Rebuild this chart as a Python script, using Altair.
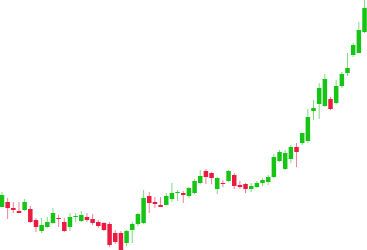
import altair as alt
import pandas as pd

opens = [14.3, 14.8, 14.2, 13.9, 14.0, 14.1, 13.0, 11.9, 12.3, 12.7,
         13.2, 12.8, 12.3, 13.3, 12.9, 13.3, 13.1, 12.8, 12.7, 12.6,
         11.7, 11.7, 10.7, 12.0, 12.6, 12.7, 15.4, 14.8, 14.5, 14.5,
         15.1, 15.7, 15.7, 15.4, 15.7, 16.7, 17.9, 17.7, 16.1, 16.7,
         16.9, 17.5, 16.5, 16.6, 16.1, 16.3, 16.7, 16.8, 17.3, 18.9,
         18.1, 19.1, 20.3, 20.7, 20.9, 23.9, 24.6, 24.4, 25.1, 24.7,
         26.4, 27.7, 29.5, 29.7, 31.8]
closes = [15.5, 14.2, 14.0, 13.7, 14.8, 12.8, 12.3, 12.5, 12.8, 13.7,
          13.1, 11.9, 13.3, 13.4, 13.5, 13.0, 12.7, 12.4, 12.0, 10.5,
          10.8, 10.0, 11.9, 12.6, 13.6, 15.2, 14.7, 14.6, 14.3, 15.4,
          15.7, 15.8, 15.5, 16.2, 16.9, 17.4, 17.3, 17.2, 17.2, 16.6,
          17.9, 16.4, 16.3, 16.1, 16.4, 16.7, 17.0, 17.3, 19.3, 19.8,
          19.7, 20.3, 19.8, 21.7, 23.3, 24.2, 26.2, 27.1, 24.1, 26.4,
          27.6, 28.2, 30.5, 32.0, 34.2]
highs = [15.8, 15.2, 14.8, 14.8, 15.1, 14.4, 13.2, 13.2, 13.3, 14.2,
         13.5, 13.2, 13.7, 13.7, 13.9, 13.7, 13.6, 13.0, 12.8, 12.8,
         12.0, 11.9, 12.0, 12.8, 13.7, 16.0, 15.8, 15.3, 15.3, 15.7,
         16.7, 16.0, 15.9, 16.3, 17.1, 18.0, 18.1, 17.8, 17.3, 17.0,
         18.0, 17.7, 16.9, 16.7, 16.7, 16.9, 17.2, 17.5, 19.6, 20.0,
         20.0, 20.5, 20.7, 21.7, 24.1, 25.0, 26.7, 27.6, 25.3, 27.0,
         27.8, 29.7, 30.7, 32.8, 35.0]
lows = [14.3, 13.1, 13.7, 13.7, 13.9, 12.7, 11.8, 11.7, 12.2, 12.6,
        12.3, 11.8, 11.9, 12.8, 12.8, 12.8, 12.5, 12.2, 11.9, 10.3,
        10.6, 10.0, 10.4, 10.7, 12.4, 12.6, 13.7, 14.2, 14.3, 14.5,
        14.8, 14.9, 14.7, 15.2, 15.6, 16.6, 16.6, 16.6, 15.6, 16.3,
        16.8, 16.1, 16.1, 15.7, 15.8, 16.2, 16.4, 16.5, 17.2, 18.8,
        18.0, 18.7, 18.3, 20.5, 20.7, 23.0, 23.1, 24.3, 24.0, 24.6,
        26.2, 27.4, 29.3, 29.7, 31.7]

df = pd.DataFrame({
    "i": list(range(len(opens))),
    "open": opens,
    "close": closes,
    "high": highs,
    "low": lows,
})
df["dir"] = ["up" if c >= o else "down" for o, c in zip(opens, closes)]

xs = alt.Scale(domain=[-0.35, 64.44], nice=False, zero=False, padding=0)
ys = alt.Scale(domain=[10, 35], nice=False, zero=False, padding=0)

body_color = alt.Color("dir:N", scale=alt.Scale(domain=["up", "down"], range=["#16c416", "#ea1a40"]), legend=None)
wick_color = alt.Color("dir:N", scale=alt.Scale(domain=["up", "down"], range=["#7fdc7f", "#f27f96"]), legend=None)

base = alt.Chart(df)
wicks = base.mark_rule(strokeWidth=1).encode(
    x=alt.X("i:Q", scale=xs, axis=None),
    y=alt.Y("low:Q", scale=ys, axis=None),
    y2="high:Q",
    color=wick_color,
)
bodies = base.mark_bar(size=4.5).encode(
    x=alt.X("i:Q", scale=xs, axis=None),
    y=alt.Y("open:Q", scale=ys, axis=None),
    y2="close:Q",
    color=body_color,
)

chart = alt.layer(wicks, bodies).resolve_scale(color="independent").properties(
    width=367, height=250, padding=0, autosize=alt.AutoSizeParams(type="none"),
    background="white",
).configure_view(stroke=None)

chart.save("out.html", embed_options={"renderer": "svg", "actions": False})
